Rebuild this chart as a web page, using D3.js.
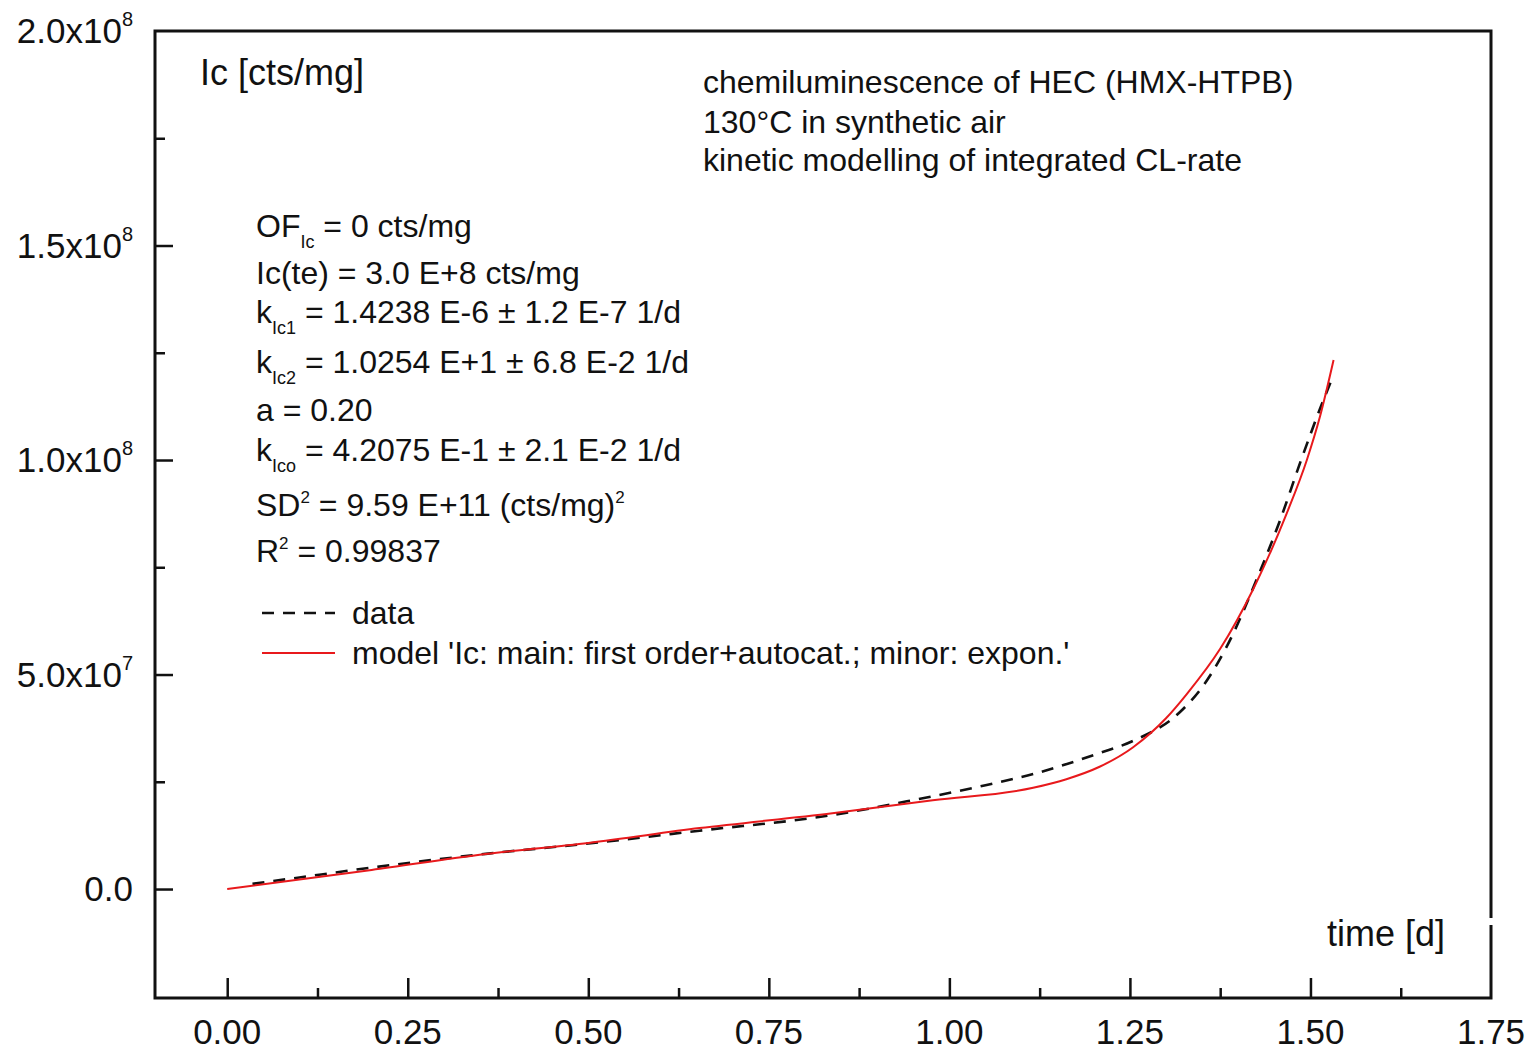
<!DOCTYPE html>
<html>
<head>
<meta charset="utf-8">
<script src="https://cdn.jsdelivr.net/npm/d3@7"></script>
<style>
  body { margin: 0; background: #fff; }
  text { font-family: "Liberation Sans", Arial, sans-serif; fill: #111; }
</style>
</head>
<body>
<div id="chart"></div>
<script>
// Chemilumineszenz HEC (HMX-HTPB), integrierte CL-Rate: Messdaten vs. Modell

// Messdaten (gestrichelt): Zeit [d], Ic [cts/mg]
const dataTime = [0.035, 0.10, 0.20, 0.358, 0.50, 0.654, 0.838, 0.949, 1.05, 1.116, 1.208, 1.254,
                  1.319, 1.352, 1.384, 1.430, 1.458, 1.486, 1.518, 1.532];
const dataIc   = [1.2e6, 2.7e6, 5.0e6, 8.2e6, 1.06e7, 1.36e7, 1.725e7, 2.07e7, 2.42e7, 2.68e7, 3.17e7, 3.45e7,
                  4.12e7, 4.75e7, 5.65e7, 7.4e7, 8.6e7, 9.95e7, 1.14e8, 1.198e8];

// Modell (rot)
const modelTime = [0.0, 0.10, 0.20, 0.358, 0.50, 0.654, 0.838, 0.977, 1.116, 1.162, 1.208, 1.254,
                   1.300, 1.329, 1.375, 1.421, 1.467, 1.495, 1.513, 1.532];
const modelIc   = [0, 2.2e6, 4.45e6, 8.16e6, 1.075e7, 1.42e7, 1.765e7, 2.07e7, 2.36e7, 2.56e7, 2.85e7, 3.30e7,
                   3.98e7, 4.55e7, 5.60e7, 7.00e7, 8.75e7, 1.0e8, 1.10e8, 1.233e8];

// Achsen
const xMajor = [0, 0.25, 0.5, 0.75, 1.0, 1.25, 1.5, 1.75];
const xMinor = [0.125, 0.375, 0.625, 0.875, 1.125, 1.375, 1.625];
const yMajor = [0, 5e7, 1e8, 1.5e8, 2e8];
const yMinor = [2.5e7, 7.5e7, 1.25e8, 1.75e8];
const yTickLabels = [["0.0", ""], ["5.0x10", "7"], ["1.0x10", "8"], ["1.5x10", "8"], ["2.0x10", "8"]];

// Texte
const titleLines = ["chemiluminescence of HEC (HMX-HTPB)", "130°C in synthetic air", "kinetic modelling of integrated CL-rate"];
const paramLines = [
  [["OF", ""], ["Ic", "sub"], [" = 0 cts/mg", ""]],
  [["Ic(te) = 3.0 E+8 cts/mg", ""]],
  [["k", ""], ["Ic1", "sub"], [" = 1.4238 E-6 ± 1.2 E-7 1/d", ""]],
  [["k", ""], ["Ic2", "sub"], [" = 1.0254 E+1 ± 6.8 E-2 1/d", ""]],
  [["a = 0.20", ""]],
  [["k", ""], ["Ico", "sub"], [" = 4.2075 E-1 ± 2.1 E-2 1/d", ""]],
  [["SD", ""], ["2", "sup"], [" = 9.59 E+11 (cts/mg)", ""], ["2", "sup"]],
  [["R", ""], ["2", "sup"], [" = 0.99837", ""]]
];
const legendLabels = ["data", "model 'Ic: main: first order+autocat.; minor: expon.'"];

const W = 1532, H = 1053;
const svg = d3.select("#chart").append("svg").attr("width", W).attr("height", H);

const x = d3.scaleLinear().domain([-0.1, 1.75]).range([155, 1491]);
const y = d3.scaleLinear().domain([-2.54e7, 2e8]).range([998, 31]);

const L = x.range()[0], R = x.range()[1], T = y.range()[1], B = y.range()[0];

// Ticks (nach innen), ohne Domain-Linie
function tickAxis(axis, values, size, transform) {
  const g = svg.append("g").attr("transform", transform)
    .call(axis.tickValues(values).tickSize(-size).tickFormat(""));
  g.select(".domain").remove();
  g.selectAll(".tick line").attr("stroke", "#111").attr("stroke-width", 2.5);
}
tickAxis(d3.axisBottom(x), xMajor.slice(0, -1), 20, `translate(0,${B})`);
tickAxis(d3.axisBottom(x), xMinor, 10, `translate(0,${B})`);
tickAxis(d3.axisLeft(y), yMajor.slice(0, -1), 18, `translate(${L},0)`);
tickAxis(d3.axisLeft(y), yMinor, 10, `translate(${L},0)`);

// Rahmen (rechte Seite mit kleiner Lücke)
const frame = svg.append("g").attr("stroke", "#111").attr("stroke-width", 3).attr("fill", "none");
frame.append("path").attr("d", `M${R},918 V${T} H${L} V${B} H${R} V925`);

// Tick-Labels
svg.append("g").selectAll("text").data(xMajor).join("text")
  .attr("x", d => x(d)).attr("y", B + 46)
  .attr("text-anchor", "middle").style("font-size", "35px")
  .text(d => d3.format(".2f")(d));

const yl = svg.append("g").selectAll("text").data(yMajor).join("text")
  .attr("x", 133).attr("y", d => y(d) + 12)
  .attr("text-anchor", "end").style("font-size", "35px");
yl.append("tspan").text((d, i) => yTickLabels[i][0]);
yl.append("tspan").attr("dy", -17).style("font-size", "20px").text((d, i) => yTickLabels[i][1]);

// Achsentitel
svg.append("text").attr("x", 200).attr("y", 85).style("font-size", "36px").text("Ic [cts/mg]");
svg.append("text").attr("x", 1445).attr("y", 946).attr("text-anchor", "end").style("font-size", "36px").text("time [d]");

// Text mit Hoch-/Tiefstellung
function richText(px, py, parts, size) {
  const t = svg.append("text").attr("x", px).attr("y", py).style("font-size", size + "px");
  let shift = 0;
  parts.forEach(([s, mode]) => {
    const target = mode === "sub" ? 11 : mode === "sup" ? -13 : 0;
    t.append("tspan").attr("dy", target - shift)
      .style("font-size", (mode === "sub" ? 18 : mode === "sup" ? 17 : size) + "px")
      .text(s);
    shift = target;
  });
}

const titleY = [93, 133, 171];
titleLines.forEach((s, i) => richText(703, titleY[i], [[s, ""]], 32));

const paramY = [237, 284, 323, 373, 421, 461, 516, 562];
paramLines.forEach((parts, i) => richText(256, paramY[i], parts, 32));

// Kurven
const line = d3.line().x(d => x(d[0])).y(d => y(d[1])).curve(d3.curveMonotoneX);
const dataPts = dataTime.map((t, i) => [t, dataIc[i]]);
const modelPts = modelTime.map((t, i) => [t, modelIc[i]]);

svg.append("path").datum(dataPts).attr("d", line)
  .attr("fill", "none").attr("stroke", "#111").attr("stroke-width", 2.6).attr("stroke-dasharray", "12,9");
svg.append("path").datum(modelPts).attr("d", line)
  .attr("fill", "none").attr("stroke", "#e8191c").attr("stroke-width", 2);

// Legende
const legY = [613, 653];
svg.append("line").attr("x1", 262).attr("x2", 335).attr("y1", legY[0]).attr("y2", legY[0])
  .attr("stroke", "#111").attr("stroke-width", 2.6).attr("stroke-dasharray", "12,9");
svg.append("line").attr("x1", 262).attr("x2", 335).attr("y1", legY[1]).attr("y2", legY[1])
  .attr("stroke", "#e8191c").attr("stroke-width", 2);
legendLabels.forEach((s, i) => richText(352, legY[i] + 11, [[s, ""]], 32));
</script>
</body>
</html>
